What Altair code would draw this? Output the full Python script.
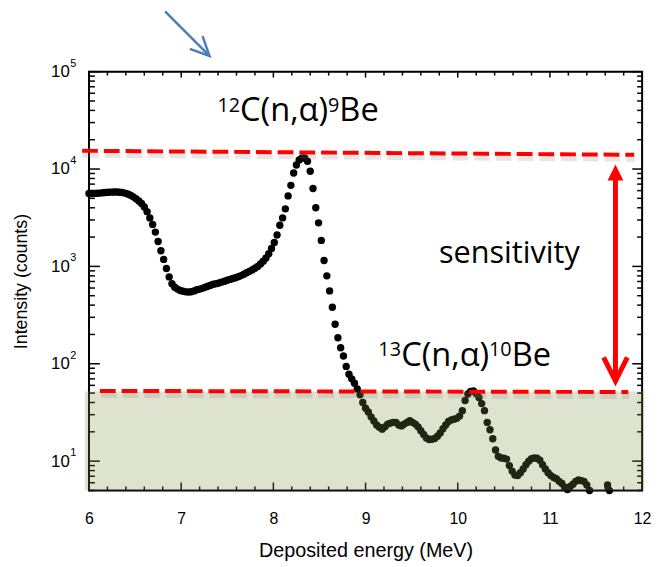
import altair as alt
import pandas as pd

# ---------------- data ----------------
energy = [6.00, 6.03, 6.06, 6.09, 6.12, 6.15, 6.18, 6.21, 6.24, 6.27, 6.30, 6.33, 6.36, 6.39,
          6.42, 6.45, 6.48, 6.51, 6.54, 6.57, 6.60, 6.63, 6.66, 6.69, 6.72, 6.75, 6.78, 6.81,
          6.84, 6.87, 6.90, 6.93, 6.96, 6.99, 7.02, 7.05, 7.08, 7.11, 7.14, 7.17, 7.20, 7.23,
          7.26, 7.29, 7.32, 7.35, 7.38, 7.41, 7.44, 7.47, 7.50, 7.53, 7.56, 7.59, 7.62, 7.65,
          7.68, 7.71, 7.74, 7.77, 7.80, 7.83, 7.86, 7.89, 7.92, 7.95, 7.98, 8.01, 8.04, 8.07,
          8.10, 8.13, 8.16, 8.19, 8.22, 8.25, 8.28, 8.31, 8.34, 8.37, 8.40, 8.43, 8.46, 8.49,
          8.52, 8.55, 8.58, 8.61, 8.64, 8.67, 8.70, 8.73, 8.76, 8.79, 8.82, 8.85, 8.88, 8.91,
          8.94, 8.97, 9.00, 9.03, 9.06, 9.09, 9.12, 9.15, 9.18, 9.21, 9.24, 9.27, 9.30, 9.33,
          9.36, 9.39, 9.42, 9.45, 9.48, 9.51, 9.54, 9.57, 9.60, 9.63, 9.66, 9.69, 9.72, 9.75,
          9.78, 9.81, 9.84, 9.87, 9.90, 9.93, 9.96, 9.99, 10.02, 10.05, 10.08, 10.11, 10.14,
          10.17, 10.20, 10.23, 10.26, 10.29, 10.32, 10.35, 10.38, 10.41, 10.44, 10.47, 10.50,
          10.53, 10.56, 10.59, 10.62, 10.65, 10.68, 10.71, 10.74, 10.77, 10.80, 10.83, 10.86,
          10.89, 10.92, 10.95, 10.98, 11.01, 11.04, 11.07, 11.10, 11.13, 11.16, 11.19, 11.22,
          11.25, 11.28, 11.31, 11.34, 11.37, 11.40, 11.43, 11.625, 11.645]
counts = [5600, 5600, 5620, 5640, 5660, 5700, 5740, 5770, 5790, 5800, 5800, 5780, 5740, 5660,
          5540, 5380, 5180, 4950, 4700, 4420, 4080, 3650, 3150, 2700, 2250, 1800, 1450, 1180,
          950, 780, 665, 610, 585, 565, 555, 548, 545, 550, 560, 575, 585, 595,
          610, 625, 640, 655, 665, 675, 690, 705, 720, 735, 750, 765, 785, 805,
          830, 860, 890, 920, 960, 1000, 1060, 1130, 1220, 1350, 1530, 1760, 2100, 2650,
          3150, 3900, 5300, 6800, 9100, 11000, 12400, 13000, 13000, 12000, 9500, 6300, 4000, 2800,
          1850, 1150, 800, 560, 380, 255, 185, 146, 120, 94, 78, 70, 63, 55,
          48, 40, 35, 32, 28.5, 25.8, 23.5, 22.3, 21.3, 22.5, 24, 24.6, 25, 25,
          23.5, 23, 24, 25, 26, 25, 24, 22.5, 20.5, 18.8, 17.3, 16.7, 16.8, 17.1,
          18, 19.5, 21.5, 23.5, 25.5, 26.5, 27, 27.5, 29, 33, 42, 49, 52,
          52.5, 49.5, 45, 39, 33, 25, 21, 17, 13, 11.2, 10.8, 10.7,
          10.5, 9, 7.9, 7.2, 7.1, 7.6, 8.3, 9.2, 10, 10.6, 10.8, 10.7,
          10.2, 9.2, 8.3, 7.6, 7.1, 6.8, 6.6, 6.2, 5.9, 5.4, 5.1, 5.5,
          5.8, 6.2, 6.4, 6.3, 6.2, 5.7, 5.0, 5.7, 5.0]

x_labels = [6, 7, 8, 9, 10, 11, 12]
x_minor = [6.2, 6.4, 6.6, 6.8, 7.2, 7.4, 7.6, 7.8, 8.2, 8.4, 8.6, 8.8, 9.2, 9.4, 9.6, 9.8,
           10.2, 10.4, 10.6, 10.8, 11.2, 11.4, 11.6, 11.8]
y_decades = [10, 100, 1000, 10000, 100000]
y_exponents = ["1", "2", "3", "4", "5"]
y_minor = [5, 6, 7, 8, 9, 20, 30, 40, 50, 60, 70, 80, 90, 200, 300, 400, 500, 600, 700, 800, 900,
           2000, 3000, 4000, 5000, 6000, 7000, 8000, 9000,
           20000, 30000, 40000, 50000, 60000, 70000, 80000, 90000]

# threshold lines (upper = 12C peak, lower = 13C peak level)
line_id = ["top", "top", "low", "low"]
line_x = [5.925, 11.914, 6.118, 11.85]
line_y = [15400, 14000, 52.6, 51.3]

# shaded zone below sensitivity limit
zone_x = [5.957]
zone_x2 = [12.02]
zone_y = [5]
zone_y2 = [52]

# double arrow
arrow_x = [11.711]
arrow_top = [7820]
arrow_bottom = [69]
head_up_y = [9210]
head_down_y = [87.9]

# blue arrow (above the plot)
blue_order = [0, 1]
blue_x = [6.825, 7.307]
blue_y = [416000, 145300]
bluehead_order = [0, 1, 2]
bluehead_x = [7.093, 7.307, 7.232]
bluehead_y = [171200, 145300, 232100]

# annotation texts
ann_text = ["12", "C(n,\u03b1)", "9", "Be", "13", "C(n,\u03b1)", "10", "Be"]
ann_x = [7.393, 7.639, 8.593, 8.716, 9.139, 9.386, 10.339, 10.586]
ann_y = [38400, 31000, 38400, 31000, 119, 94.4, 119, 94.4]
ann_size = [20, 33, 20, 33, 20, 33, 20, 33]
sens_text = ["sensitivity"]
sens_x = [10.56]
sens_y = [1072]

# ---------------- chart ----------------
W, H = 560, 424
FONT = "Liberation Sans"
TFONT = "Open Sans"
xs = alt.Scale(domain=[6, 12], nice=False, zero=False)
ys = alt.Scale(type="log", domain=[5, 100000], nice=False)

XAX = alt.Axis(
    values=x_labels, format="d", ticks=False, tickSize=0, domain=False, grid=False,
    labelFlush=False, labelPadding=20, labelFontSize=16, labelFont=FONT, labelColor="black",
    title="Deposited energy (MeV)", titleFont=FONT, titleFontSize=20, titleFontWeight="normal",
    titleColor="black", titleY=61, titleBaseline="middle")
YAX = alt.Axis(
    values=y_decades, labelExpr="'10'", ticks=False, tickSize=0, domain=False, grid=False,
    labelOverlap=False, labelPadding=20, labelFontSize=17, labelFont=FONT, labelColor="black",
    title="Intensity (counts)", titleFont=FONT, titleFontSize=18, titleFontWeight="normal",
    titleColor="black", titleAngle=270, titleX=-68, titleY=212, titleAlign="center",
    titleBaseline="middle")


def X(field):
    return alt.X(field, scale=xs, axis=XAX)


def Y(field):
    return alt.Y(field, scale=ys, axis=YAX)


df = pd.DataFrame({"E": energy, "C": counts})
points = alt.Chart(df).mark_circle(size=56, color="black", opacity=1).encode(
    x=X("E:Q"), y=Y("C:Q"))

exp_df = pd.DataFrame({"v": y_decades, "t": y_exponents})
exps = alt.Chart(exp_df).mark_text(align="left", baseline="middle", dy=-8, fontSize=11,
                                   font=FONT, color="black").encode(
    x=alt.value(-19), y=Y("v:Q"), text="t:N")


def yticks(vals, x0, x1):
    return alt.Chart(pd.DataFrame({"v": vals})).mark_rule(color="black", strokeWidth=1.5).encode(
        y=Y("v:Q"), x=alt.value(x0), x2=alt.value(x1))


def xticks(vals, y0, y1):
    return alt.Chart(pd.DataFrame({"v": vals})).mark_rule(color="black", strokeWidth=1.5).encode(
        x=X("v:Q"), y=alt.value(y0), y2=alt.value(y1))


ticks = [
    yticks(y_decades, 0, 11), yticks(y_minor, 0, 6),
    yticks(y_decades, W - 10, W), yticks(y_minor, W - 5, W),
    xticks(x_labels, H, H - 8), xticks(x_minor, H, H - 4),
    xticks(x_labels, 0, 6), xticks(x_minor, 0, 4),
]

frame = alt.Chart(pd.DataFrame({"a": [0]})).mark_rect(
    fillOpacity=0, stroke="black", strokeWidth=2).encode(
    x=alt.value(0), x2=alt.value(W), y=alt.value(0), y2=alt.value(H))

zone = alt.Chart(pd.DataFrame({"x": zone_x, "x2": zone_x2, "y": zone_y, "y2": zone_y2})).mark_rect(
    color="#7a9143", opacity=0.26, clip=False).encode(
    x=X("x:Q"), x2="x2:Q", y=Y("y:Q"), y2="y2:Q")

ldf = pd.DataFrame({"id": line_id, "x": line_x, "y": line_y})
shadow = alt.Chart(ldf).mark_line(color="#808080", opacity=0.2, strokeWidth=6,
                                  strokeDash=[16, 6], yOffset=4, xOffset=1, clip=False).encode(
    x=X("x:Q"), y=Y("y:Q"), detail="id:N")
redlines = alt.Chart(ldf).mark_line(color="#ff0000", strokeWidth=4, strokeDash=[16, 6],
                                    clip=False).encode(
    x=X("x:Q"), y=Y("y:Q"), detail="id:N")

adf = pd.DataFrame({"x": arrow_x, "y": arrow_top, "y2": arrow_bottom,
                    "hu": head_up_y, "hd": head_down_y})
shaft = alt.Chart(adf).mark_rule(color="#ff0000", strokeWidth=5).encode(
    x=X("x:Q"), y=Y("y:Q"), y2="y2:Q")
head_up = alt.Chart(adf).mark_point(shape="M0,-1L1,1L-1,1Z", size=256, filled=True,
                                    color="#ff0000", opacity=1).encode(
    x=X("x:Q"), y=Y("hu:Q"))
head_down = alt.Chart(adf).mark_point(shape="M-1,-1L0,1L1,-1", size=576, filled=False,
                                      color="#ff0000", strokeWidth=5, opacity=1).encode(
    x=X("x:Q"), y=Y("hd:Q"))

bdf = pd.DataFrame({"o": blue_order, "x": blue_x, "y": blue_y})
blue = alt.Chart(bdf).mark_line(color="#4a7ebb", strokeWidth=2.5, clip=False).encode(
    x=X("x:Q"), y=Y("y:Q"), order="o:Q")
bhdf = pd.DataFrame({"o": bluehead_order, "x": bluehead_x, "y": bluehead_y})
bluehead = alt.Chart(bhdf).mark_line(color="#4a7ebb", strokeWidth=2.5, clip=False).encode(
    x=X("x:Q"), y=Y("y:Q"), order="o:Q")

tdf = pd.DataFrame({"t": ann_text, "x": ann_x, "y": ann_y, "s": ann_size})
labels = alt.Chart(tdf).mark_text(align="left", baseline="alphabetic", font=TFONT,
                                  color="black").encode(
    x=X("x:Q"), y=Y("y:Q"), text="t:N", size=alt.Size("s:Q", scale=None, legend=None))
sdf = pd.DataFrame({"t": sens_text, "x": sens_x, "y": sens_y})
sens = alt.Chart(sdf).mark_text(align="center", baseline="alphabetic", font=TFONT, fontSize=31,
                                color="black").encode(
    x=X("x:Q"), y=Y("y:Q"), text="t:N")

chart = alt.layer(
    points, exps, *ticks, frame, zone, shadow, redlines, shaft, head_up, head_down,
    blue, bluehead, labels, sens
).properties(
    width=W, height=H,
    autosize=alt.AutoSizeParams(type="none"),
    padding={"left": 82, "top": 61, "right": 9, "bottom": 70},
).configure_view(strokeWidth=0).configure(background="white")

chart.save("out.html", embed_options={"renderer": "svg", "actions": False})
